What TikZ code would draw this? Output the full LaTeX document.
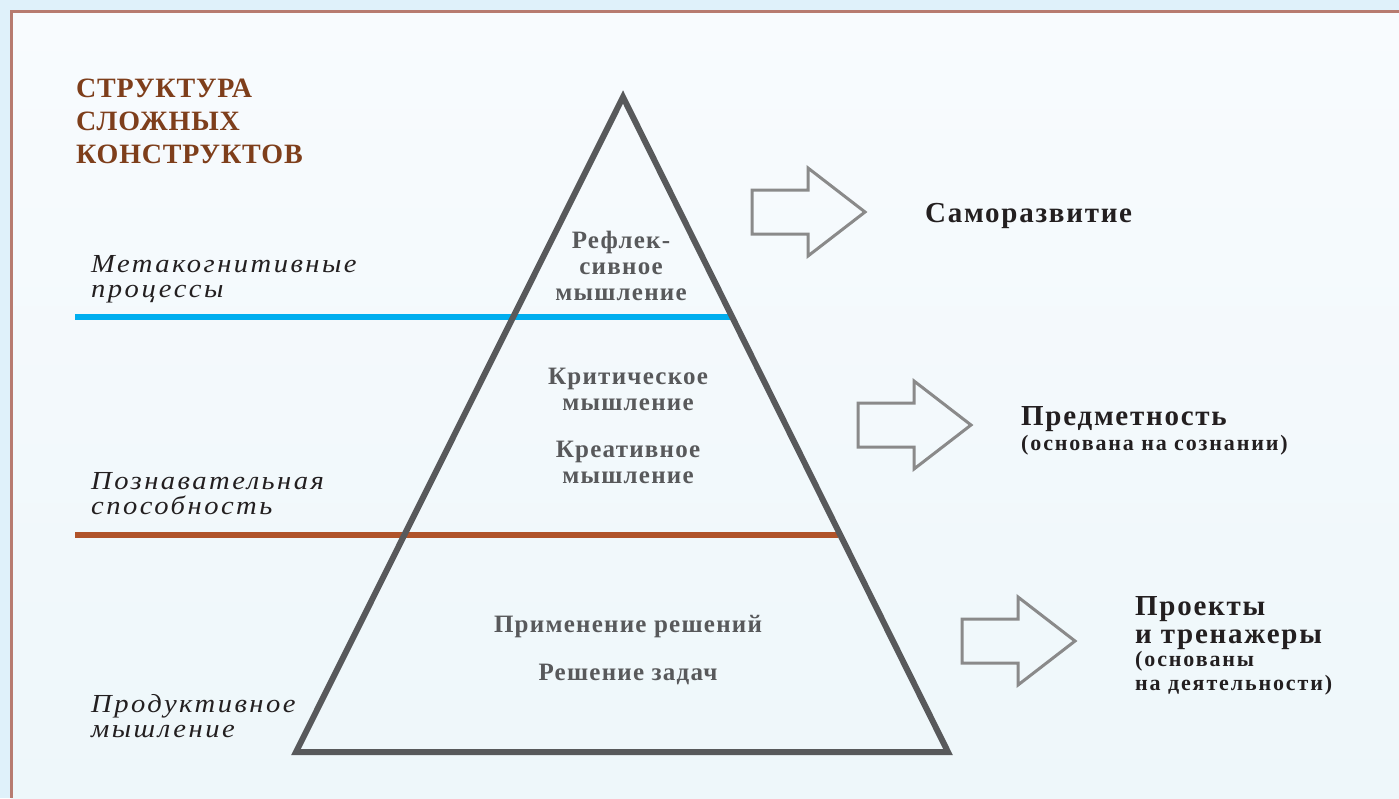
\documentclass[tikz,border=0pt]{standalone}
\usepackage{fontspec}
\setmainfont{Liberation Serif}
\newfontfamily\titlefont{Liberation Serif}[LetterSpace=3]
\newfontfamily\labfont{Liberation Serif}[LetterSpace=9.5,FakeStretch=1.1]
\newfontfamily\midfont{Liberation Serif}[LetterSpace=5]
\newfontfamily\rightfont{Liberation Serif}[LetterSpace=6]
\newfontfamily\notefont{Liberation Serif}[LetterSpace=8.5]
\definecolor{outerbg}{HTML}{DFF1FA}
\definecolor{innerA}{HTML}{F8FBFE}
\definecolor{innerB}{HTML}{EEF7FA}
\definecolor{borderc}{HTML}{B77B70}
\definecolor{titlec}{HTML}{7E3E1B}
\definecolor{pyrc}{HTML}{58595B}
\definecolor{bluec}{HTML}{00AEEF}
\definecolor{brownc}{HTML}{B0532A}
\definecolor{arrowc}{HTML}{8A8A8A}
\definecolor{darktext}{HTML}{231F20}
\tikzset{
  titletext/.style={inner sep=0pt, anchor=base west, align=left, text=titlec,
    font=\titlefont\bfseries\fontsize{28}{33}\selectfont},
  labtext/.style={inner sep=0pt, anchor=base west, align=left, text=darktext,
    font=\labfont\itshape\fontsize{26}{25}\selectfont},
  midtext/.style={inner sep=0pt, anchor=base, align=center, text=pyrc,
    font=\midfont\bfseries\fontsize{25}{25.5}\selectfont},
  headtext/.style={inner sep=0pt, anchor=base west, align=left, text=darktext,
    font=\rightfont\bfseries\fontsize{29}{28}\selectfont},
  notetext/.style={inner sep=0pt, anchor=base west, align=left, text=darktext,
    font=\notefont\bfseries\fontsize{22}{23.5}\selectfont},
  pyrline/.style={draw=pyrc, line width=6pt, line join=miter},
  levelline/.style={line width=6pt},
  blockarrow/.style={draw=arrowc, line width=3pt, line join=miter},
}
\begin{document}
\begin{tikzpicture}[x=1pt,y=-1pt]
\useasboundingbox (0,0) rectangle (1399,798);
% background
\fill[outerbg] (0,0) rectangle (1399,798);
\shade[top color=innerA, bottom color=innerB] (11,11) rectangle (1399,798);
\draw[borderc, line width=3pt] (11,798) -- (11,11) -- (1399,11);

% title (anchor on last line's baseline)
\node[titletext] (title) at (76,163) {СТРУКТУРА\\СЛОЖНЫХ\\КОНСТРУКТОВ};

% level lines
\coordinate (blueL) at (75,317);
\coordinate (blueR) at (730,317);
\coordinate (brownL) at (75,535);
\coordinate (brownR) at (838,535);
\draw[levelline, bluec] (blueL) -- (blueR);
\draw[levelline, brownc] (brownL) -- (brownR);

% pyramid
\coordinate (apex) at (623,97);
\coordinate (bl) at (296,752);
\coordinate (br) at (948,752);
\draw[pyrline] (apex) -- (bl) -- (br) -- cycle;

% left labels
\node[labtext] (meta) at (91,297) {Метакогнитивные\\процессы};
\node[labtext] (cog) at (91,514) {Познавательная\\способность};
\node[labtext] (prod) at (91,737) {Продуктивное\\мышление};

% pyramid texts
\node[midtext, font=\midfont\bfseries\fontsize{25}{26}\selectfont] (refl) at (621,300) {Рефлек-\\сивное\\мышление};
\node[midtext] (crit) at (628,410) {Критическое\\мышление};
\node[midtext] (creat) at (628,483) {Креативное\\мышление};
\node[midtext] (apply) at (628,632) {Применение решений};
\node[midtext] (solve) at (628,680) {Решение задач};

% arrows
\coordinate (a1) at (752,212);
\coordinate (a2) at (858,425);
\coordinate (a3) at (962,641);
\foreach \a in {a1,a2,a3}{
  \draw[blockarrow] (\a) ++(0,-22) -- ++(56,0) -- ++(0,-22) -- ++(57,44) -- ++(-57,44) -- ++(0,-22) -- ++(-56,0) -- cycle;
}

% right texts
\node[headtext] (self) at (925,222) {Саморазвитие};
\node[headtext] (subj) at (1021,425) {Предметность};
\node[notetext] (subjnote) at (1021,450) {(основана на сознании)};
\node[headtext] (proj) at (1135,643) {Проекты\\и тренажеры};
\node[notetext] (projnote) at (1135,690) {(основаны\\на деятельности)};
\end{tikzpicture}
\end{document}
